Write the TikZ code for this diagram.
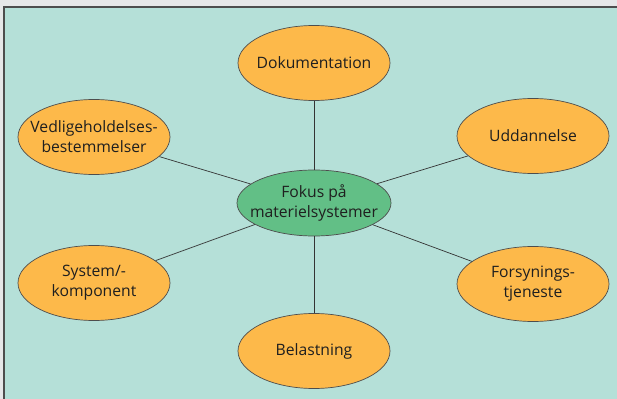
\documentclass[tikz,border=0pt]{standalone}
\usepackage{fontspec}
\setmainfont{Open Sans}
\usetikzlibrary{shapes.geometric}
\definecolor{pageGray}{HTML}{E6E7E8}
\definecolor{boxTeal}{HTML}{B5E0D8}
\definecolor{topicOrange}{HTML}{FDB94A}
\definecolor{focusGreen}{HTML}{62BF86}
\definecolor{rimGray}{HTML}{4D4D4D}
\tikzset{
    topicEllipse/.style={ellipse, draw=rimGray, fill=topicOrange, line width=0.6pt, minimum width=4.56cm, minimum height=2.25cm, inner xsep=-25pt, inner ysep=0pt, align=center, font=\fontsize{13.4}{17}\selectfont, text=black!88},
    focusEllipse/.style={topicEllipse, fill=focusGreen, minimum width=4.62cm, minimum height=1.98cm},
    spoke/.style={draw=black!80, line width=0.6pt}
}
\begin{document}
\begin{tikzpicture}[x=0.03cm, y=-0.03cm]
            \useasboundingbox (0,0) rectangle (617,399);
            \fill[pageGray] (0,0) rectangle (617,399);
            \fill[boxTeal] (4,7) rectangle (617,399);
            \draw[rimGray, line width=1pt] (4,399) -- (4,7) -- (617,7);
            \node[focusEllipse] (focus) at (314,203) {Fokus på\\materielsystemer};
            \node[topicEllipse] (dokumentation) at (314,63) {Dokumentation};
            \node[topicEllipse] (vedligehold) at (94,137) {Vedligeholdelses-\\bestemmelser};
            \node[topicEllipse] (uddannelse) at (533,136) {Uddannelse};
            \node[topicEllipse] (system) at (94,283) {System/-\\komponent};
            \node[topicEllipse] (forsyning) at (533,284) {Forsynings-\\tjeneste};
            \node[topicEllipse] (belastning) at (314,351) {Belastning};
            \foreach \topic in {dokumentation, vedligehold, uddannelse, system, forsyning, belastning}
                \draw[spoke] (focus) -- (\topic);
        \end{tikzpicture}
\end{document}
